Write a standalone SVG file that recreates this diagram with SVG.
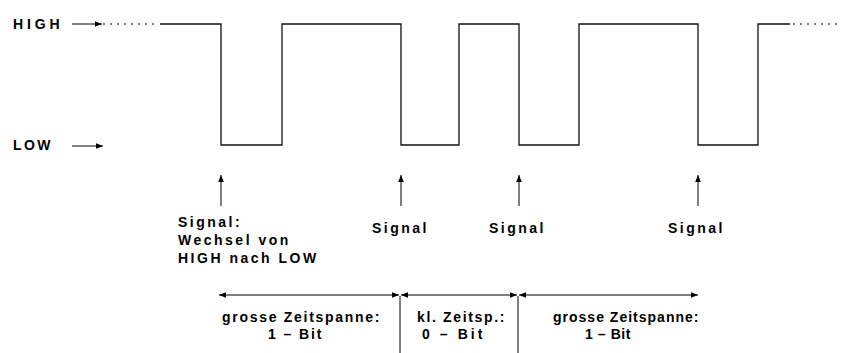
<svg xmlns="http://www.w3.org/2000/svg" width="844" height="353" viewBox="0 0 844 353">
<defs>
<style>
.t{font-family:"Liberation Sans",Arial,sans-serif;font-weight:bold;font-size:14px;fill:#000;letter-spacing:2.5px}
.w{fill:none;stroke:#111;stroke-width:1.3}
.c{fill:none;stroke:#000;stroke-width:1}
.d{fill:none;stroke:#000;stroke-width:1;stroke-dasharray:2 5}
</style>
<marker id="ah" viewBox="0 0 10 10" refX="10" refY="5" markerWidth="7" markerHeight="7" orient="auto-start-reverse" markerUnits="userSpaceOnUse">
<path d="M0,1 L10,5 L0,9 Z" fill="#000"/>
</marker>
</defs>
<rect width="844" height="353" fill="#fff"/>
<g id="level-labels">
<text class="t" x="13" y="29" textLength="49" lengthAdjust="spacing">HIGH</text>
<text class="t" x="13" y="150" textLength="40" lengthAdjust="spacing">LOW</text>
</g>
<g id="waveform">
<path class="d" d="M103,24 H157"/>
<path class="w" d="M160,24 H221 V145 H282 V24 H401 V145 H459 V24 H519 V145 H579 V24 H698 V145 H758 V24 H790"/>
<path class="d" d="M793,24 H842"/>
</g>
<g id="signal-labels">
<text class="t" x="178" y="227">Signal:</text>
<text class="t" x="178" y="245">Wechsel von</text>
<text class="t" x="178" y="263">HIGH nach LOW</text>
<text class="t" x="372" y="233">Signal</text>
<text class="t" x="489" y="233">Signal</text>
<text class="t" x="668" y="233">Signal</text>
</g>
<g id="span-labels">
<text class="t" x="222" y="322" textLength="160" lengthAdjust="spacing">grosse Zeitspanne:</text>
<text class="t" x="268" y="339" textLength="56" lengthAdjust="spacing">1 – Bit</text>
<text class="t" x="417" y="322" textLength="90" lengthAdjust="spacing">kl. Zeitsp.:</text>
<text class="t" x="422" y="339" textLength="63" lengthAdjust="spacing">0 – Bit</text>
<text class="t" x="553" y="322" textLength="148" lengthAdjust="spacing">grosse Zeitspanne:</text>
<text class="t" x="585" y="339" textLength="48" lengthAdjust="spacing">1 – Bit</text>
</g>
<g id="connectors">
<path class="c" d="M72,24 H102" marker-end="url(#ah)"/>
<path class="c" d="M72,146 H103" marker-end="url(#ah)"/>
<path class="c" d="M221,206 V175" marker-end="url(#ah)"/>
<path class="c" d="M401,206 V175" marker-end="url(#ah)"/>
<path class="c" d="M519,206 V175" marker-end="url(#ah)"/>
<path class="c" d="M698,206 V175" marker-end="url(#ah)"/>
<path class="c" d="M219,295 H399" marker-start="url(#ah)" marker-end="url(#ah)"/>
<path class="c" d="M401,295 H517" marker-start="url(#ah)" marker-end="url(#ah)"/>
<path class="c" d="M519,295 H698" marker-start="url(#ah)" marker-end="url(#ah)"/>
<path class="c" d="M400,296 V353"/>
<path class="c" d="M518,296 V353"/>
</g>
</svg>
